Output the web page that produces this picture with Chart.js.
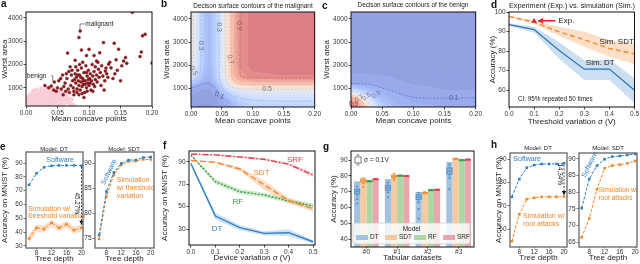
<!DOCTYPE html>
<html><head><meta charset="utf-8">
<script src="https://cdn.jsdelivr.net/npm/chart.js@4/dist/chart.umd.min.js"></script>
<style>
body{margin:0;width:640px;height:264px;position:relative;overflow:hidden;background:#fff;font-family:"Liberation Sans",Arial,sans-serif}
.L{position:absolute;font-weight:bold;font-size:10px;line-height:10px;z-index:3;color:#111}
.T{position:absolute;line-height:1;white-space:nowrap;text-align:center;z-index:3;color:#222}
</style></head><body>
<div class="L" style="left:1px;top:-1.5px">a</div>
<div class="L" style="left:161px;top:-1.5px">b</div>
<div class="L" style="left:322px;top:0.5px">c</div>
<div class="L" style="left:491px;top:-0.5px">d</div>
<div class="L" style="left:0px;top:141.5px">e</div>
<div class="L" style="left:163px;top:141px">f</div>
<div class="L" style="left:323px;top:141.5px">g</div>
<div class="L" style="left:491px;top:140px">h</div>
<div class="T" style="left:173px;width:160px;top:2.6px;font-size:6.4px">Decison surface contours of the malignant</div>
<div class="T" style="left:333px;width:160px;top:1.8px;font-size:6.4px">Decison surface contours of the benign</div>
<div class="T" style="left:492px;width:160px;top:2px;font-size:7.3px">Experiment (Exp.) vs. simulation (Sim.)</div>
<div class="T" style="left:14px;width:80px;top:146px;font-size:6px">Model: DT</div>
<div class="T" style="left:84px;width:80px;top:146px;font-size:6px">Model: SDT</div>
<div class="T" style="left:498px;width:80px;top:145px;font-size:6px">Model: DT</div>
<div class="T" style="left:568px;width:80px;top:145px;font-size:6px">Model: SDT</div>
<script>
// ---------------- DATA ----------------
// (a) scatter: [mean concave points, worst area]
const aMalignant=[[0.169,4245],[0.086,3440],[0.084,3160],[0.189,3300],[0.185,3230],[0.123,2940],[0.140,2915],[0.147,2660],[0.183,2540],[0.181,2340],[0.200,2060],[0.066,2490],[0.096,2385],[0.108,2385],[0.088,2620],[0.100,2650],[0.078,2180],[0.112,2150],[0.155,2150],[0.158,2300],[0.160,2050],[0.152,1940],[0.131,2010],[0.126,1720],[0.135,1860],[0.145,1750],[0.138,1400],[0.150,1300],[0.124,900],[0.092,580],[0.060,1050],[0.045,1250],[0.040,1080],[0.036,1000],[0.030,1100],[0.052,1300],[0.055,1400],[0.058,1550],[0.062,1200],[0.065,1400],[0.068,1700],[0.070,1900],[0.072,1550],[0.074,1300],[0.075,1000],[0.076,850],[0.078,1600],[0.079,1200],[0.080,1450],[0.081,950],[0.082,1750],[0.083,1300],[0.084,1100],[0.085,1550],[0.086,900],[0.087,1250],[0.088,1850],[0.089,1050],[0.090,1400],[0.091,1150],[0.092,1650],[0.093,800],[0.094,1300],[0.095,1950],[0.096,1000],[0.097,1500],[0.098,1200],[0.099,1750],[0.100,1100],[0.101,1400],[0.102,1600],[0.103,900],[0.104,1300],[0.105,2000],[0.106,1500],[0.107,1150],[0.108,1700],[0.110,1350],[0.112,1550],[0.113,1250],[0.115,1800],[0.116,1450],[0.118,1650],[0.119,1100],[0.120,1950],[0.122,1500],[0.125,1300],[0.127,1850],[0.128,1600],[0.130,1450],[0.133,2100],[0.110,1900],[0.114,2100],[0.090,2100],[0.085,2000],[0.079,1900],[0.071,1100],[0.067,950],[0.063,850],[0.059,700],[0.064,1600],[0.073,1750],[0.077,1350],[0.082,1550],[0.087,1450],[0.091,1300],[0.094,1150],[0.096,1650],[0.099,1350],[0.102,1200],[0.097,850],[0.089,750],[0.084,700],[0.081,800],[0.076,700],[0.069,800],[0.056,950],[0.050,1000],[0.048,850],[0.044,900],[0.117,2500],[0.143,2200],[0.141,1600],[0.109,1050],[0.106,850]];
const aBenign=[[0.000,300],[0.002,450],[0.004,380],[0.005,560],[0.006,250],[0.008,420],[0.009,650],[0.010,330],[0.011,500],[0.012,720],[0.013,280],[0.014,600],[0.015,420],[0.016,350],[0.017,540],[0.018,780],[0.019,470],[0.020,300],[0.021,620],[0.022,400],[0.023,520],[0.024,700],[0.025,350],[0.026,580],[0.027,460],[0.028,820],[0.029,390],[0.030,640],[0.031,500],[0.032,300],[0.033,720],[0.034,560],[0.035,430],[0.036,880],[0.037,620],[0.038,380],[0.039,500],[0.040,760],[0.041,450],[0.042,600],[0.043,340],[0.044,680],[0.045,520],[0.046,800],[0.047,420],[0.048,600],[0.049,350],[0.050,700],[0.052,480],[0.054,620],[0.056,400],[0.058,560],[0.060,450],[0.062,520],[0.065,400],[0.003,600],[0.007,700],[0.012,850],[0.016,900],[0.020,760],[0.024,950],[0.028,560],[0.031,800],[0.033,430],[0.036,680],[0.039,780],[0.041,580],[0.044,480],[0.047,660],[0.019,380],[0.022,550],[0.026,420],[0.029,700],[0.034,380],[0.038,900],[0.042,820],[0.046,540],[0.050,560],[0.054,780],[0.057,680],[0.061,620],[0.008,300],[0.014,480],[0.018,620],[0.021,450],[0.025,640],[0.030,450],[0.035,600],[0.040,620],[0.045,400],[0.017,250],[0.027,280],[0.037,300],[0.047,320],[0.010,550],[0.015,700],[0.023,830],[0.032,980],[0.043,950],[0.053,850],[0.058,780],[0.063,700],[0.066,550],[0.070,300],[0.075,250],[0.068,420],[0.072,500],[0.055,300],[0.060,260],[0.052,250],[0.039,240],[0.029,230]];
const aXTicks=[0,0.05,0.10,0.15,0.20], aXLabels=['0.00','0.05','0.10','0.15','0.20'];
const aYTicks=[1000,2000,3000,4000], aYLabels=['1000','2000','3000','4000'];
// (b) malignant probability grid (rows follow bY, columns follow bX)
const bX=[0,0.01,0.02,0.03,0.04,0.05,0.06,0.07,0.08,0.10,0.15,0.20];
const bY=[200,600,900,1100,1300,1500,2000,3000,4300];
const bZ=[
 [0.04,0.03,0.03,0.03,0.04,0.06,0.10,0.14,0.20,0.26,0.27,0.27],
 [0.06,0.05,0.04,0.04,0.07,0.12,0.18,0.24,0.30,0.35,0.36,0.36],
 [0.09,0.07,0.06,0.06,0.09,0.20,0.30,0.38,0.44,0.47,0.48,0.48],
 [0.14,0.10,0.08,0.08,0.14,0.28,0.42,0.52,0.60,0.62,0.63,0.63],
 [0.28,0.18,0.12,0.10,0.19,0.35,0.52,0.68,0.78,0.82,0.83,0.83],
 [0.42,0.28,0.17,0.12,0.23,0.40,0.60,0.78,0.88,0.92,0.93,0.93],
 [0.53,0.38,0.22,0.15,0.26,0.42,0.62,0.82,0.91,0.95,0.96,0.96],
 [0.56,0.40,0.22,0.15,0.26,0.42,0.62,0.82,0.91,0.95,0.96,0.96],
 [0.56,0.40,0.22,0.15,0.26,0.42,0.62,0.82,0.91,0.95,0.96,0.96]];
const bC01=[[0,1010],[0.012,1120],[0.025,1230],[0.036,1080],[0.044,800],[0.052,560],[0.064,340]];
const bC03a=[[0.016,4300],[0.015,1800],[0.010,1450],[0,1290]];
const bC03b=[[0.045,4300],[0.046,1400],[0.050,1050],[0.058,800],[0.075,600],[0.110,460],[0.200,440]];
const bC05a=[[0.004,4300],[0.003,1900],[0,1600]];
const bC05b=[[0.055,4300],[0.056,1450],[0.060,1200],[0.070,1020],[0.090,965],[0.200,960]];
const bC07=[[0.065,4300],[0.066,1550],[0.070,1300],[0.080,1180],[0.100,1160],[0.200,1160]];
const bC09=[[0.0795,4300],[0.0795,1650],[0.083,1480],[0.095,1450],[0.200,1450]];
// (c) benign probability grid
const cX=[0,0.01,0.02,0.03,0.04,0.05,0.07,0.10,0.15,0.20];
const cY=[200,400,600,800,1000,1200,1600,2000,4300];
const cZ=[
 [0.97,0.90,0.75,0.55,0.38,0.25,0.15,0.11,0.10,0.10],
 [0.92,0.82,0.65,0.45,0.30,0.20,0.13,0.10,0.09,0.09],
 [0.78,0.68,0.50,0.33,0.22,0.16,0.11,0.09,0.08,0.08],
 [0.50,0.42,0.30,0.21,0.15,0.12,0.105,0.08,0.07,0.07],
 [0.25,0.20,0.16,0.13,0.11,0.10,0.09,0.075,0.065,0.065],
 [0.10,0.10,0.10,0.095,0.09,0.085,0.075,0.065,0.06,0.06],
 [0.07,0.07,0.07,0.07,0.065,0.065,0.06,0.055,0.05,0.05],
 [0.04,0.04,0.04,0.04,0.04,0.04,0.04,0.04,0.04,0.04],
 [0.04,0.04,0.04,0.04,0.04,0.04,0.04,0.04,0.04,0.04]];
const cC01=[[0,1200],[0.029,1170],[0.061,915],[0.104,600],[0.200,585]];
const cC005=[[0,1650],[0.060,1640],[0.100,1560],[0.200,1330]];
const cC03=[[0.045,190],[0.040,480],[0.030,700],[0.015,820],[0,860]];
const cC05=[[0.032,190],[0.026,450],[0.017,620],[0,720]];
const cC07=[[0.022,190],[0.016,430],[0.006,560],[0,600]];
const cC09=[[0.009,190],[0.005,330],[0,420]];
// (d)
const dX=[0,0.1,0.2,0.3,0.4,0.5];
const dDT=[93.5,91.0,80.3,70.7,70.7,59.9];
const dDTlo=[92.9,89.5,76.0,65.1,65.1,53.3];
const dDThi=[94.2,92.4,84.5,75.2,75.6,66.1];
const dSDT=[97.7,94.8,89.8,85.8,81.3,78.6];
const dSDTlo=[97.2,94.0,87.7,82.2,77.1,73.3];
const dSDThi=[98.2,95.6,92.5,89.9,85.6,84.0];
const dExpX=[0.1], dExpY=[95.3];
const dXTicks=[0,0.1,0.2,0.3,0.4,0.5], dXLabels=['0.0','0.1','0.2','0.3','0.4','0.5'];
const dYTicks=[60,70,80,90,100], dYLabels=['60','70','80','90','100'];
// (e)
const eX=[6,8,10,12,14,16,18,20];
const eDTsw=[74.2,82.5,86.9,88.0,88.3,88.3,88.3,88.0];
const eDTsim=[35.4,43.1,42.2,46.7,43.1,45.6,41.4,43.1];
const eDTsimLo=[31.5,40.0,39.5,43.5,40.5,43.0,39.0,40.5];
const eDTsimHi=[38.5,45.5,45.0,49.0,45.5,48.0,44.0,45.5];
const eSDTsw=[75.6,84.3,88.1,89.9,90.6,90.6,91.1,91.2];
const eSDTsim=[74.8,83.3,87.6,89.6,90.3,90.4,90.7,90.7];
const depthTicks=[8,12,16,20], depthLabels=['8','12','16','20'];
const e1YTicks=[30,40,50,60,70,80,90], e1YLabels=['30','40','50','60','70','80','90'];
const e2YTicks=[75,80,85,90], e2YLabels=['75','80','85','90'];
// (f)
const fX=[0,0.1,0.2,0.3,0.4,0.5];
const fSRF=[97.0,96.3,94.5,92.4,88.0,78.4], fSRFlo=[96.5,95.6,93.6,91.4,86.8,76.6], fSRFhi=[97.5,97.0,95.4,93.4,89.2,80.2];
const fSDT=[91.3,89.7,83.7,69.4,55.5,48.0], fSDTlo=[90.8,89.0,82.0,65.0,53.0,45.5], fSDThi=[91.8,90.4,85.4,73.5,58.0,50.5];
const fRF=[96.0,72.4,63.4,60.5,55.1,50.6], fRFlo=[95.5,70.0,61.0,58.5,53.0,48.0], fRFhi=[96.5,74.8,65.8,62.5,57.2,53.0];
const fDT=[88.5,41.6,31.2,26.1,26.7,18.6], fDTlo=[88.0,38.5,29.0,24.3,23.8,17.0], fDThi=[89.0,44.8,33.5,28.0,29.8,20.2];
const fYTicks=[30,50,70,90], fYLabels=['30','50','70','90'];
// (g)
const gCats=['#0','#1','#2','#3'];
const gModels=['DT','SDT','RF','SRF'];
const gDT=[76.5,78.0,69.8,88.8], gSDT=[78.8,80.8,69.8,91.0], gRF=[77.0,80.3,71.0,90.0], gSRF=[78.2,80.2,71.5,90.5];
// box: [low whisker, q1, median, q3, high whisker, outliers]
const gBoxDT=[[65,68.5,70,71.5,73.5,[62.5]],[69.5,71,72.5,74,76,[66.5]],[63,65,66.5,68,69.5,[59,53]],[78.5,81,83,85,87.5,[71.5]]];
const gBoxSDT=[[75,76,76.8,77.5,78.5,[73]],[78,79,79.6,80.2,81.5,[77.5]],[68.5,68.8,69.2,69.5,70,[]],[90.5,90.7,90.9,91,91.2,[]]];
const gBoxRF=[[76.3,76.5,76.7,76.9,77.1,[]],[79.8,80,80.2,80.4,80.5,[]],[70.8,71,71.1,71.2,71.4,[]],[89.8,89.9,90,90.1,90.2,[]]];
const gBoxSRF=[[77.8,77.9,78,78.1,78.2,[]],[79.8,79.9,80,80.1,80.2,[]],[71.2,71.3,71.4,71.5,71.6,[]],[90.2,90.3,90.4,90.5,90.6,[]]];
const gYTicks=[40,50,60,70,80,90], gYLabels=['40','50','60','70','80','90'];
// (h)
const hX=[6,8,10,12,14,16,18,20];
const hDTsw=[73.8,81.4,86.3,87.4,87.9,87.9,87.9,88.2];
const hDTatk=[54.8,66.3,72.8,73.4,73.8,73.8,73.8,73.9];
const hSDTsw=[75.2,84.0,88.0,89.9,90.7,90.9,91.2,91.5];
const hSDTatk=[66.4,72.1,80.9,87.2,88.0,88.3,88.7,89.4];
const h1YTicks=[60,70,80,90], h1YLabels=['60','70','80','90'];
const h2YTicks=[65,70,75,80,85,90], h2YLabels=['65','70','75','80','85','90'];

// ---------------- HELPERS ----------------
const FF='"Liberation Sans", Arial, Helvetica, sans-serif';
Chart.defaults.font.family=FF;
Chart.defaults.color='#333';
const CW=[[0,59,76,192],[0.125,98,130,234],[0.25,141,176,254],[0.375,184,208,249],[0.5,221,221,221],[0.625,245,196,173],[0.75,244,152,122],[0.875,222,96,77],[1,180,4,38]];
function cw(v){v=Math.max(0,Math.min(1,v));for(let i=0;i<CW.length-1;i++){if(v<=CW[i+1][0]){const t=(v-CW[i][0])/(CW[i+1][0]-CW[i][0]);return [1,2,3].map(k=>CW[i][k]+t*(CW[i+1][k]-CW[i][k]));}}return CW[8].slice(1);}
function interp(xs,ys,z,x,y){
  const fi=(a,v)=>{if(v<=a[0])return[0,0];if(v>=a[a.length-1])return[a.length-2,1];let i=0;while(v>a[i+1])i++;return[i,(v-a[i])/(a[i+1]-a[i])];};
  const [i,tx]=fi(xs,x),[j,ty]=fi(ys,y);
  const a=z[j][i],b=z[j][i+1],c=z[j+1][i],d=z[j+1][i+1];
  return (a*(1-tx)+b*tx)*(1-ty)+(c*(1-tx)+d*tx)*ty;
}
const heat={id:'heat',beforeDatasetsDraw(ch,a,o){
  if(!o||!o.z)return;
  const {left,top,right,bottom}=ch.chartArea;const xs=ch.scales.x,ys=ch.scales.y;
  const w=Math.round(right-left),h=Math.round(bottom-top);
  const off=document.createElement('canvas');off.width=w;off.height=h;
  const oc=off.getContext('2d');const img=oc.createImageData(w,h);
  for(let j=0;j<h;j++){const yv=ys.getValueForPixel(top+j+0.5);
    for(let i=0;i<w;i++){const xv=xs.getValueForPixel(left+i+0.5);
      let v=interp(o.xs,o.ys,o.z,xv,yv);v=(Math.floor(v*30)+0.5)/30;
      const c=cw(v);const k=(j*w+i)*4;
      img.data[k]=255-0.6*(255-c[0]);img.data[k+1]=255-0.6*(255-c[1]);img.data[k+2]=255-0.6*(255-c[2]);img.data[k+3]=255;}}
  oc.putImageData(img,0,0);ch.ctx.drawImage(off,left,top);
}};
const notes={id:'notes',afterDatasetsDraw(ch,a,o){
  if(!o||!o.items)return;
  const X=v=>ch.scales.x.getPixelForValue(v),Y=v=>ch.scales.y.getPixelForValue(v),ctx=ch.ctx;
  o.items.forEach(it=>{
    ctx.save();
    if(it.t==='line'){
      ctx.strokeStyle=it.c||'#000';ctx.lineWidth=it.w||0.8;ctx.setLineDash(it.dash||[]);
      ctx.beginPath();it.p.forEach((q,i)=>{const px=X(q[0]),py=Y(q[1]);i?ctx.lineTo(px,py):ctx.moveTo(px,py);});ctx.stroke();
      if(it.head){const n=it.p.length;const x1=X(it.p[n-2][0]),y1=Y(it.p[n-2][1]),x2=X(it.p[n-1][0]),y2=Y(it.p[n-1][1]);
        const an=Math.atan2(y2-y1,x2-x1),Lh=it.head,Wd=it.hw||Lh*0.6;ctx.setLineDash([]);ctx.fillStyle=it.c||'#000';
        ctx.beginPath();ctx.moveTo(x2,y2);
        ctx.lineTo(x2-Lh*Math.cos(an)+Wd*Math.sin(an),y2-Lh*Math.sin(an)-Wd*Math.cos(an));
        ctx.lineTo(x2-Lh*Math.cos(an)-Wd*Math.sin(an),y2-Lh*Math.sin(an)+Wd*Math.cos(an));
        ctx.closePath();ctx.fill();}
    }else{
      ctx.font=(it.b?'bold ':'')+(it.z||7)+'px '+FF;ctx.fillStyle=it.c||'#222';ctx.textAlign=it.al||'center';ctx.textBaseline='middle';
      ctx.translate(X(it.x),Y(it.y));if(it.r)ctx.rotate(it.r*Math.PI/180);
      if(it.bg){const m=ctx.measureText(it.s).width;ctx.fillStyle=it.bg;const x0=it.al==='left'?0:(it.al==='right'?-m:-m/2);ctx.fillRect(x0-1,-4,m+2,8);ctx.fillStyle=it.c||'#222';}
      ctx.fillText(it.s,0,0);
    }
    ctx.restore();
  });
}};
const boxes={id:'boxes',afterDatasetsDraw(ch,a,o){
  if(!o||!o.sets)return;
  const ys=ch.scales.y,ctx=ch.ctx,p=v=>ys.getPixelForValue(v);
  o.sets.forEach(s=>{const meta=ch.getDatasetMeta(s.ds);
    s.data.forEach((b,i)=>{const el=meta.data[i];const cx=el.x,w=el.width*s.wf;
      const [lo,q1,md,q3,hi,out]=b;ctx.save();ctx.lineWidth=0.8;ctx.strokeStyle=s.line;ctx.fillStyle=s.fill;
      ctx.beginPath();ctx.moveTo(cx,p(hi));ctx.lineTo(cx,p(q3));ctx.moveTo(cx,p(q1));ctx.lineTo(cx,p(lo));
      ctx.moveTo(cx-w*0.3,p(hi));ctx.lineTo(cx+w*0.3,p(hi));ctx.moveTo(cx-w*0.3,p(lo));ctx.lineTo(cx+w*0.3,p(lo));ctx.stroke();
      ctx.fillRect(cx-w/2,p(q3),w,Math.max(1,p(q1)-p(q3)));ctx.strokeRect(cx-w/2,p(q3),w,Math.max(1,p(q1)-p(q3)));
      ctx.beginPath();ctx.moveTo(cx-w/2,p(md));ctx.lineTo(cx+w/2,p(md));ctx.stroke();
      ctx.fillStyle=s.line;out.forEach(v=>{ctx.beginPath();ctx.arc(cx,p(v),1,0,Math.PI*2);ctx.fill();});
      ctx.restore();});});
}};
const glegend={id:'glegend',afterDatasetsDraw(ch,a,o){
  if(!o||!o.show)return;
  const ca=ch.chartArea,ctx=ch.ctx;ctx.save();
  const lx=ca.left+4,ly=ca.top+9;
  ctx.strokeStyle='#444';ctx.lineWidth=0.7;ctx.setLineDash([1,1]);
  ctx.beginPath();ctx.moveTo(lx+3,ly-5);ctx.lineTo(lx+3,ly+5);ctx.stroke();ctx.setLineDash([]);
  ctx.fillStyle='#fff';ctx.fillRect(lx,ly-3,6,6);ctx.strokeRect(lx,ly-3,6,6);
  ctx.beginPath();ctx.moveTo(lx+1.5,ly-5);ctx.lineTo(lx+4.5,ly-5);ctx.moveTo(lx+1.5,ly+5);ctx.lineTo(lx+4.5,ly+5);ctx.stroke();
  ctx.fillStyle='#222';ctx.font='6.5px '+FF;ctx.textBaseline='middle';ctx.textAlign='left';ctx.fillText(o.sigma,lx+9,ly);
  const bx=ca.left+2,by=ca.top+72,bw=117,bh=21;
  ctx.fillStyle='rgba(255,255,255,0.8)';ctx.strokeStyle='#ccc';ctx.lineWidth=0.8;
  ctx.beginPath();ctx.roundRect(bx,by,bw,bh,2);ctx.fill();ctx.stroke();
  ctx.fillStyle='#222';ctx.textAlign='center';ctx.fillText(o.title,bx+bw/2,by+6);
  ch.data.datasets.forEach((d,k)=>{const sx=bx+3+k*29;ctx.fillStyle=d.backgroundColor;ctx.fillRect(sx,by+12,12,5);
    ctx.fillStyle='#222';ctx.textAlign='left';ctx.fillText(d.label,sx+14,by+14.5);});
  ctx.restore();
}};
const frame={id:'frame',afterDraw(ch,a,o){
  if(!o||!o.show)return;const {left,top,right,bottom}=ch.chartArea;const ctx=ch.ctx;ctx.save();
  ctx.strokeStyle=o.c||'#111';ctx.lineWidth=o.w||1;ctx.strokeRect(left,top,right-left,bottom-top);ctx.restore();
}};
Chart.register(heat,notes,boxes,glegend,frame);

function ax(min,max,ticks,labels,title,o){
  o=o||{};
  return {type:'linear',min,max,
    afterBuildTicks:s=>{s.ticks=ticks.map(v=>({value:v}));},
    grid:{display:true,drawOnChartArea:false,drawTicks:true,tickLength:o.tl||2.5,color:o.tc||'#222',lineWidth:o.tw||0.8},
    border:{display:false},
    ticks:{font:{size:6.5,family:FF},color:'#333',padding:(o.pad!==undefined?o.pad:1),maxRotation:0,autoSkip:false,callback:(v,i)=>labels[i]},
    title:title?{display:true,text:title,font:{size:8,family:FF},color:'#222',padding:0}:{display:false}};
}
function mk(r,m,cfg){
  const c=document.createElement('canvas');
  const L=r[0]-m[0],T=r[1]-m[1],W=r[2]+m[2]-L,H=r[3]+m[3]-T;
  c.width=W;c.height=H;c.style.cssText=`position:absolute;left:${L}px;top:${T}px;width:${W}px;height:${H}px`;
  document.body.appendChild(c);
  const o=cfg.options;
  o.responsive=false;o.maintainAspectRatio=false;o.animation=false;o.devicePixelRatio=1;
  o.layout={padding:{left:0,top:m[1],right:m[2],bottom:0}};
  o.scales.x.afterFit=s=>{s.height=m[3];};
  o.scales.y.afterFit=s=>{s.width=m[0];};
  o.plugins=Object.assign({legend:{display:false},tooltip:{enabled:false}},o.plugins||{});
  return new Chart(c,cfg);
}
const P=(xs,ys)=>xs.map((x,i)=>({x,y:ys[i]}));
const PP=arr=>arr.map(q=>({x:q[0],y:q[1]}));
const Ln=(data,color,opt)=>Object.assign({data,borderColor:color,backgroundColor:color,borderWidth:1.3,pointRadius:0,tension:0,fill:false},opt||{});
const band=(hi,lo,color)=>[{data:hi,borderWidth:0,pointRadius:0,fill:'+1',backgroundColor:color,tension:0},{data:lo,borderWidth:0,pointRadius:0,fill:false,tension:0}];
const CL=(arr,color,dash)=>({data:PP(arr),showLine:true,pointRadius:0,borderColor:color,borderWidth:0.8,borderDash:dash||[2,1.5],tension:0.3});

const BLUE='#2f7fc1',ORANGE='#f5862a';
const XB={tc:'#555',tl:1.5,pad:0};

// ---------------- (a) ----------------
mk([26,12,152,106],[26,5,8,18],{type:'scatter',data:{datasets:[
  {data:PP(aMalignant),pointRadius:1.5,backgroundColor:'#8e1b1e',borderColor:'#6e1214',borderWidth:0.4},
  {data:PP(aBenign),pointRadius:2.4,backgroundColor:'#f9cdd7',borderWidth:0}
]},options:{scales:{x:ax(0,0.2,aXTicks,aXLabels,'Mean concave points'),y:ax(215,4256,aYTicks,aYLabels,'Worst area')},
  plugins:{frame:{show:true},notes:{items:[
    {t:'line',p:[[0.0857,3480],[0.0857,3743],[0.093,3743]],c:'#333',w:0.6},
    {x:0.094,y:3743,s:'malignant',al:'left',z:6.5},
    {t:'line',p:[[0.040,1514],[0.0425,1514],[0.0425,1270]],c:'#333',w:0.6},
    {x:0.0015,y:1514,s:'benign',al:'left',z:6.5,bg:'rgba(255,255,255,0.7)'}
  ]}}}});

// ---------------- (b) ----------------
mk([191,12,315,107],[29,5,7,19],{type:'scatter',data:{datasets:[
  CL(bC09,'#d8555a'),CL(bC07,'#f0a080'),CL(bC05a,'#c8c0c0'),CL(bC05b,'#c8c0c0'),CL(bC03a,'#9ab4ee'),CL(bC03b,'#9ab4ee'),CL(bC01,'#5a78d8')
]},options:{scales:{x:ax(0,0.2,aXTicks,aXLabels,'Mean concave points'),y:ax(190,4300,aYTicks,aYLabels,'Worst area')},
  plugins:{frame:{show:true},heat:{xs:bX,ys:bY,z:bZ},notes:{items:[
    {x:0.078,y:3700,s:'0.9',r:90,c:'#8a5a5a'},{x:0.0635,y:2250,s:'0.7',r:75,c:'#9a6a5a'},
    {x:0.123,y:960,s:'0.5',c:'#777'},{x:0.045,y:3650,s:'0.3',r:90,c:'#6a7898'},
    {x:0.016,y:2850,s:'0.3',r:90,c:'#6a7898'},{x:0.004,y:1750,s:'0.5',r:60,c:'#777'},
    {x:0.046,y:680,s:'0.1',r:25,c:'#4a5a90'}
  ]}}}});

// ---------------- (c) ----------------
mk([351,12,476,107],[29,5,7,19],{type:'scatter',data:{datasets:[
  CL(cC01,'#5a78d8'),CL(cC005,'#8fa0e0',[1.5,1.5]),CL(cC03,'#b8c8f0'),CL(cC05,'#d8d0d0'),CL(cC07,'#f0a080'),CL(cC09,'#d8555a')
]},options:{scales:{x:ax(0,0.2,aXTicks,aXLabels,'Mean concave points'),y:ax(190,4300,aYTicks,aYLabels,'Worst area')},
  plugins:{frame:{show:true},heat:{xs:cX,ys:cY,z:cZ},notes:{items:[
    {x:0.004,y:300,s:'0.9',c:'#8a4a4a',z:6.5},{x:0.013,y:560,s:'0.7',r:-35,c:'#8a6a6a',z:6.5},
    {x:0.025,y:640,s:'0.5',r:-35,c:'#777',z:6.5},{x:0.040,y:720,s:'0.3',r:-35,c:'#6a7898',z:6.5},
    {x:0.165,y:590,s:'0.1',c:'#4a5a90',z:6.5}
  ]}}}});

// ---------------- (d) ----------------
mk([509,12,635,107],[21,5,5,20],{type:'line',data:{datasets:[
  {type:'scatter',data:P(dExpX,dExpY),pointStyle:'triangle',pointRadius:3.2,backgroundColor:'#e8202a',borderWidth:0},
  Ln(P(dX,dSDT),'#f28a30',{borderDash:[5,3],borderWidth:1.4}),
  Ln(P(dX,dDT),'#2b73b5',{borderWidth:1.2}),
  ...band(P(dX,dSDThi),P(dX,dSDTlo),'rgba(250,170,110,0.38)'),
  ...band(P(dX,dDThi),P(dX,dDTlo),'rgba(120,170,220,0.38)')
]},options:{scales:{x:ax(0,0.5,dXTicks,dXLabels,'Threshold variation σ (V)'),y:ax(51.3,100,dYTicks,dYLabels,'Accuracy (%)')},
  plugins:{frame:{show:true},notes:{items:[
    {t:'line',p:[[0.185,95.5],[0.116,95.5]],c:'#e8202a',w:1.6,head:5,hw:3},
    {x:0.197,y:95.5,s:'Exp.',al:'left',z:8},
    {x:0.361,y:84.8,s:'Sim. SDT',al:'left',z:8},
    {x:0.306,y:73.8,s:'Sim. DT',al:'left',z:8},
    {x:0.036,y:55.4,s:'CI: 95% repeated 50 times',al:'left',z:6.3}
  ]}}}});

// ---------------- (e) ----------------
const mkStyle=c=>({borderDash:[3,1.5],borderWidth:1,pointRadius:1.8,pointStyle:'rect',pointBackgroundColor:c,pointBorderWidth:0});
mk([26,152,83,248],[26,5,4,16],{type:'line',data:{datasets:[
  Ln(P(eX,eDTsw),BLUE,mkStyle(BLUE)),
  Ln(P(eX,eDTsim),ORANGE,mkStyle(ORANGE)),
  ...band(P(eX,eDTsimHi),P(eX,eDTsimLo),'rgba(248,170,110,0.35)')
]},options:{scales:{x:ax(5.2,20.4,depthTicks,depthLabels,'Tree depth',XB),y:ax(28.5,98,e1YTicks,e1YLabels,'Accuracy on MNIST (%)',{tc:'#555'})},
  plugins:{frame:{show:true,c:'#666',w:1.3},notes:{items:[
    {x:14.3,y:92,s:'Software',c:BLUE,z:7},
    {x:5.8,y:56.7,s:'Simulation w/',al:'left',c:ORANGE,z:7},
    {x:5.8,y:51.6,s:'threshold variation',al:'left',c:ORANGE,z:7},
    {t:'line',p:[[20,87.3],[20,45.3]],c:'#111',w:0.8,dash:[2,1.5],head:4,hw:2.2},
    {x:18.6,y:61,s:'45.27%',r:90,z:6.3}
  ]}}}});
mk([95,152,154,248],[14,5,5,16],{type:'line',data:{datasets:[
  Ln(P(eX,eSDTsw),BLUE,mkStyle(BLUE)),
  Ln(P(eX,eSDTsim),ORANGE,mkStyle(ORANGE))
]},options:{scales:{x:ax(4.9,20.9,depthTicks,depthLabels,'Tree depth',XB),y:ax(73,92.2,e2YTicks,e2YLabels,null,{tc:'#555'})},
  plugins:{frame:{show:true,c:'#666',w:1.3},notes:{items:[
    {x:8.7,y:88.2,s:'Software',r:-64,c:BLUE,z:7},
    {x:10.8,y:86.6,s:'Simulation',al:'left',c:ORANGE,z:7},
    {x:10.8,y:85.0,s:'w/ threshold',al:'left',c:ORANGE,z:7},
    {x:10.8,y:83.4,s:'variation',al:'left',c:ORANGE,z:7}
  ]}}}});

// ---------------- (f) ----------------
mk([189,151,315,245],[29,5,6,18],{type:'line',data:{datasets:[
  Ln(P(fX,fSRF),'#d9404a',{borderDash:[6,2,1.5,2],borderWidth:1.4}),
  Ln(P(fX,fSDT),'#f5872f',{borderDash:[6,3],borderWidth:1.4}),
  Ln(P(fX,fRF),'#3a9a44',{borderDash:[2,1.5],borderWidth:1.4}),
  Ln(P(fX,fDT),'#2f7fc1',{borderWidth:1.4}),
  ...band(P(fX,fSRFhi),P(fX,fSRFlo),'rgba(230,110,115,0.3)'),
  ...band(P(fX,fSDThi),P(fX,fSDTlo),'rgba(248,160,100,0.35)'),
  ...band(P(fX,fRFhi),P(fX,fRFlo),'rgba(120,200,120,0.35)'),
  ...band(P(fX,fDThi),P(fX,fDTlo),'rgba(120,170,220,0.35)')
]},options:{scales:{x:ax(-0.008,0.508,dXTicks,dXLabels,'Device variation σ (V)'),y:ax(15.7,99.8,fYTicks,fYLabels,'Accuracy on MNIST (%)')},
  plugins:{frame:{show:true},notes:{items:[
    {x:0.426,y:91.8,s:'SRF',c:'#d9404a',z:8},{x:0.289,y:80.2,s:'SDT',c:'#f5872f',z:8},
    {x:0.192,y:54.5,s:'RF',c:'#3a9a44',z:8},{x:0.107,y:30,s:'DT',c:'#2f7fc1',z:8}
  ]}}}});

// ---------------- (g) ----------------
const gy=ax(35,95.7,gYTicks,gYLabels,'Accuracy (%)');
mk([351,151,474,247],[22,5,6,16],{type:'bar',data:{labels:gCats,datasets:[
  {label:gModels[0],data:gDT,backgroundColor:'#a2c3e0',borderWidth:0},
  {label:gModels[1],data:gSDT,backgroundColor:'#f6caa0',borderWidth:0},
  {label:gModels[2],data:gRF,backgroundColor:'#acd6a4',borderWidth:0},
  {label:gModels[3],data:gSRF,backgroundColor:'#e9a7ad',borderWidth:0}
]},options:{datasets:{bar:{barPercentage:1,categoryPercentage:0.8}},
  scales:{x:{type:'category',offset:true,grid:{display:true,offset:false,drawOnChartArea:false,drawTicks:true,tickLength:1.5,color:'#222',lineWidth:0.8},border:{display:false},
      ticks:{font:{size:6.5,family:FF},color:'#333',padding:0,maxRotation:0},title:{display:true,text:'Tabular datasets',font:{size:8,family:FF},color:'#222',padding:0}},
    y:gy},
  plugins:{frame:{show:true},boxes:{sets:[
    {ds:0,data:gBoxDT,wf:0.85,fill:'rgba(120,170,215,0.75)',line:'#4a8cc6'},
    {ds:1,data:gBoxSDT,wf:0.85,fill:'rgba(250,175,115,0.8)',line:'#f08a35'},
    {ds:2,data:gBoxRF,wf:0.85,fill:'rgba(110,190,110,0.8)',line:'#3a9a44'},
    {ds:3,data:gBoxSRF,wf:0.85,fill:'rgba(225,100,110,0.8)',line:'#d9404a'}]},
    glegend:{show:true,title:'Model',sigma:'σ = 0.1V'}}}});

// ---------------- (h) ----------------
mk([510,153,567,247],[16,5,4,16],{type:'line',data:{datasets:[
  Ln(P(hX,hDTsw),BLUE,mkStyle(BLUE)),
  Ln(P(hX,hDTatk),ORANGE,mkStyle(ORANGE))
]},options:{scales:{x:ax(5.5,20.8,depthTicks,depthLabels,'Tree depth',XB),y:ax(52.3,92.6,h1YTicks,h1YLabels,'Accuracy on MNIST (%)',{tc:'#555'})},
  plugins:{frame:{show:true,c:'#666',w:1.3},notes:{items:[
    {x:6.4,y:89.9,s:'Software',al:'left',c:BLUE,z:7},
    {x:9.0,y:65.5,s:'Simulation w/',al:'left',c:ORANGE,z:7},
    {x:9.0,y:62.1,s:'root attacks',al:'left',c:ORANGE,z:7},
    {t:'line',p:[[20,87.5],[20,74.6]],c:'#111',w:0.8,dash:[2,1.5],head:4,hw:2.2},
    {x:18.9,y:83.5,s:'14.34%',r:90,z:6.3}
  ]}}}});
mk([579,153,637,247],[12,5,4,16],{type:'line',data:{datasets:[
  Ln(P(hX,hSDTsw),BLUE,mkStyle(BLUE)),
  Ln(P(hX,hSDTatk),ORANGE,mkStyle(ORANGE))
]},options:{scales:{x:ax(5.3,20.5,depthTicks,depthLabels,'Tree depth',XB),y:ax(63.5,91.8,h2YTicks,h2YLabels,null,{tc:'#555'})},
  plugins:{frame:{show:true,c:'#666',w:1.3},notes:{items:[
    {x:8.1,y:88.3,s:'Software',r:-64,c:BLUE,z:7},
    {x:10.4,y:80.5,s:'Simulation w/',al:'left',c:ORANGE,z:6.6},
    {x:10.4,y:78.1,s:'root attacks',al:'left',c:ORANGE,z:6.6}
  ]}}}});
</script>
</body></html>
